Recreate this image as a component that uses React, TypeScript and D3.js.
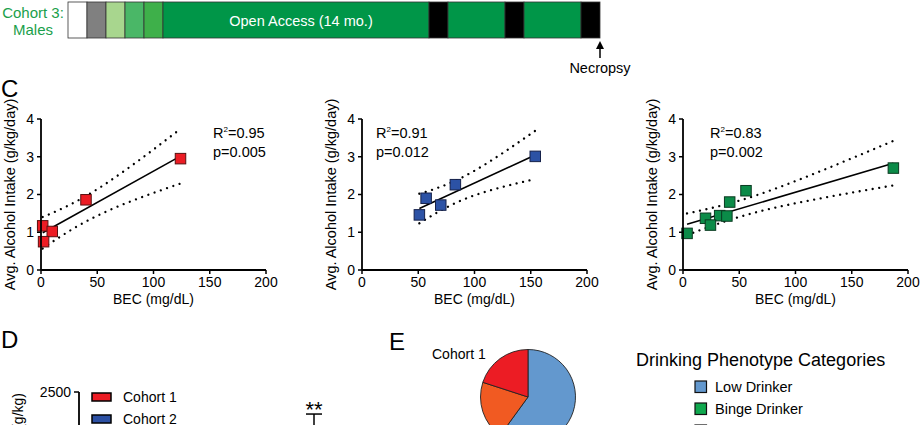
import React from "react";
import * as d3 from "d3";

const FONT = "'Liberation Sans', Arial, Helvetica, sans-serif";

// ---- Timeline (Cohort 3: Males), durations in months ----
const timelinePhases = ["Baseline", "Induction 1", "Induction 2", "Induction 3", "Induction 4", "Open Access", "Abstinence 1", "Reintroduction 1", "Abstinence 2", "Reintroduction 2", "Abstinence 3"];
const timelineDurations = [1, 1, 1, 1, 1, 14, 1, 3, 1, 3, 1];
const timelineColors = ["#ffffff", "#808080", "#a8d68e", "#4ab767", "#3eb04a", "#009648", "#000000", "#009648", "#000000", "#009648", "#000000"];

// ---- Panel C: BEC vs intake ----
const cohort1BEC = [124, 40, 1.5, 10, 2.3];
const cohort1Intake = [2.95, 1.86, 1.17, 1.02, 0.75];
const cohort2BEC = [154, 83, 57, 70, 51];
const cohort2Intake = [3.01, 2.26, 1.9, 1.72, 1.46];
const cohort3BEC = [187, 56, 41.5, 32.6, 39, 20, 24.4, 3.6];
const cohort3Intake = [2.7, 2.1, 1.8, 1.44, 1.43, 1.37, 1.19, 0.97];
const statsR2 = ["0.95", "0.91", "0.83"];
const statsP = ["0.005", "0.012", "0.002"];
const becTicks = [0, 50, 100, 150, 200];
const intakeTicks = [0, 1, 2, 3, 4];
const T_CRIT: Record<number, number> = { 3: 3.182, 6: 2.447 };

// ---- Panel D ----
const dCohorts = ["Cohort 1", "Cohort 2"];
const dTicks = [2500, 2000];
const dErrorTop = 2210;

// ---- Panel E ----
const phenotypeNames = ["Low Drinker", "Binge Drinker", "Heavy Drinker", "Very Heavy Drinker"];
const phenotypeColors = ["#6398ce", "#10a84e", "#f15a22", "#ec1c24"];
const cohort1PhenoNames = ["Low Drinker", "Heavy Drinker", "Very Heavy Drinker"];
const cohort1PhenoCounts = [3, 1, 1];

function Scatter({ x0, x1, bec, intake, fill, stroke, r2, p, textX }: any) {
  const x = d3.scaleLinear().domain([0, 200]).range([x0, x1]);
  const y = d3.scaleLinear().domain([0, 4]).range([270, 119]);
  const n = bec.length;
  const mx = d3.mean(bec) as number;
  const my = d3.mean(intake) as number;
  const sxx = d3.sum(bec, (v: number) => (v - mx) ** 2);
  const sxy = d3.sum(bec.map((v: number, i: number) => (v - mx) * (intake[i] - my)));
  const slope = sxy / sxx;
  const icpt = my - slope * mx;
  const ssr = d3.sum(bec.map((v: number, i: number) => (intake[i] - (icpt + slope * v)) ** 2));
  const s = Math.sqrt(ssr / (n - 2));
  const t = T_CRIT[n - 2];
  const [minX, maxX] = d3.extent(bec) as [number, number];
  const xs = d3.range(0, 61).map((k) => minX + ((maxX - minX) * k) / 60);
  const line = d3.line<[number, number]>().x((d) => x(d[0])).y((d) => y(d[1]));
  const band = (sign: number) =>
    line(xs.map((v) => [v, icpt + slope * v + sign * t * s * Math.sqrt(1 / n + (v - mx) ** 2 / sxx)] as [number, number])) as string;
  const fit = line([[minX, icpt + slope * minX], [maxX, icpt + slope * maxX]]) as string;
  const sz = 10.5;
  return (
    <g fontFamily={FONT}>
      <path d={band(1)} fill="none" stroke="#000" strokeWidth={2.3} strokeDasharray="0.01 6.6" strokeLinecap="round" />
      <path d={band(-1)} fill="none" stroke="#000" strokeWidth={2.3} strokeDasharray="0.01 6.6" strokeLinecap="round" />
      <path d={fit} fill="none" stroke="#000" strokeWidth={1.6} />
      {bec.map((v: number, i: number) => (
        <rect key={i} x={x(v) - sz / 2} y={y(intake[i]) - sz / 2} width={sz} height={sz} fill={fill} stroke={stroke} strokeWidth={1} />
      ))}
      {/* axes */}
      <line x1={x0} x2={x0} y1={y(4)} y2={y(0)} stroke="#000" strokeWidth={1.8} />
      <line x1={x0} x2={x1} y1={y(0)} y2={y(0)} stroke="#000" strokeWidth={1.8} />
      {intakeTicks.map((tk) => (
        <g key={tk}>
          <line x1={x0 - 4} x2={x0} y1={y(tk)} y2={y(tk)} stroke="#000" strokeWidth={1.5} />
          <text x={x0 - 7} y={y(tk)} dy="0.35em" textAnchor="end" fontSize={14}>{tk}</text>
        </g>
      ))}
      {becTicks.map((tk) => (
        <g key={tk}>
          <line x1={x(tk)} x2={x(tk)} y1={y(0)} y2={y(0) + 4} stroke="#000" strokeWidth={1.5} />
          <text x={x(tk)} y={287} textAnchor="middle" fontSize={14}>{tk}</text>
        </g>
      ))}
      <text x={(x0 + x1) / 2} y={304} textAnchor="middle" fontSize={14}>BEC (mg/dL)</text>
      <text transform={`translate(${x0 - 31},${(y(4) + y(0)) / 2}) rotate(-90)`} textAnchor="middle" dy="0.35em" fontSize={14.5}>
        Avg. Alcohol Intake (g/kg/day)
      </text>
      <text x={textX} y={138} fontSize={14.5}>
        R<tspan fontSize={8} dy={-6}>2</tspan>
        <tspan dy={6}>={r2}</tspan>
      </text>
      <text x={textX} y={157} fontSize={14.5}>p={p}</text>
    </g>
  );
}

export default function App() {
  // timeline
  const total = d3.sum(timelineDurations);
  const tx = d3.scaleLinear().domain([0, total]).range([68, 600]);
  const starts = d3.cumsum([0, ...timelineDurations]);
  const openIdx = timelinePhases.indexOf("Open Access");

  // panel D
  const dy = d3.scaleLinear().domain([0, 2500]).range([582, 392]);
  const dColors = ["#ec1c24", "#2c50a3"];

  // panel E
  const pie = d3.pie<number>().sort(null).value((d) => d);
  const arcs = pie(cohort1PhenoCounts);
  const arc = d3.arc<d3.PieArcDatum<number>>().innerRadius(0).outerRadius(47.5);

  return (
    <svg width={920} height={425} style={{ position: "absolute", left: 0, top: 0, background: "#fff" }} fontFamily={FONT}>
      <rect x={0} y={0} width={920} height={425} fill="#fff" />
      {/* Timeline */}
      <text x={33} y={18} textAnchor="middle" fontSize={15} fill="#1aa04b">Cohort 3:</text>
      <text x={33} y={35} textAnchor="middle" fontSize={15} fill="#1aa04b">Males</text>
      {timelineDurations.map((d, i) => (
        <rect key={timelinePhases[i]} x={tx(starts[i])} y={2} width={tx(starts[i] + d) - tx(starts[i])} height={36}
          fill={timelineColors[i]} stroke="#333" strokeWidth={0.8} />
      ))}
      <text x={(tx(starts[openIdx]) + tx(starts[openIdx + 1])) / 2 + 5} y={21} dy="0.35em" textAnchor="middle" fontSize={14.5} fill="#fff">
        Open Access (14 mo.)
      </text>
      <line x1={tx(total)} x2={tx(total)} y1={58} y2={46} stroke="#000" strokeWidth={1.5} />
      <polygon points={`${tx(total)},41 ${tx(total) - 4},49 ${tx(total) + 4},49`} fill="#000" />
      <text x={tx(total)} y={73} textAnchor="middle" fontSize={14.5}>Necropsy</text>

      {/* Panel C */}
      <text x={1} y={97} fontSize={24}>C</text>
      <Scatter x0={41} x1={266} bec={cohort1BEC} intake={cohort1Intake} fill="#ec1c24" stroke="#5a1010" r2={statsR2[0]} p={statsP[0]} textX={213} />
      <Scatter x0={362} x1={587} bec={cohort2BEC} intake={cohort2Intake} fill="#2c52a5" stroke="#15214a" r2={statsR2[1]} p={statsP[1]} textX={376} />
      <Scatter x0={683} x1={908} bec={cohort3BEC} intake={cohort3Intake} fill="#0b8b48" stroke="#0a3a20" r2={statsR2[2]} p={statsP[2]} textX={710} />

      {/* Panel D */}
      <text x={1} y={348} fontSize={24}>D</text>
      <text transform={`translate(18,393) rotate(-90)`} textAnchor="end" dy="0.35em" fontSize={14}>Cumulative Intake (g/kg)</text>
      <line x1={79} x2={79} y1={dy(2500)} y2={440} stroke="#000" strokeWidth={1.8} />
      {dTicks.map((tk) => (
        <g key={tk}>
          <line x1={74} x2={79} y1={dy(tk)} y2={dy(tk)} stroke="#000" strokeWidth={1.5} />
          <text x={71} y={dy(tk)} dy="0.35em" textAnchor="end" fontSize={14}>{tk}</text>
        </g>
      ))}
      {dCohorts.map((c, i) => (
        <g key={c}>
          <rect x={92} y={393 + i * 22} width={19} height={8} fill={dColors[i]} stroke="#000" strokeWidth={1.5} />
          <text x={123} y={397 + i * 22} dy="0.35em" fontSize={14}>{c}</text>
        </g>
      ))}
      <text x={314} y={417} textAnchor="middle" fontSize={22}>**</text>
      <line x1={306} x2={322} y1={dy(dErrorTop)} y2={dy(dErrorTop)} stroke="#000" strokeWidth={1.5} />
      <line x1={314} x2={314} y1={dy(dErrorTop)} y2={440} stroke="#000" strokeWidth={1.5} />

      {/* Panel E */}
      <text x={389} y={350} fontSize={24}>E</text>
      <text x={432} y={354} dy="0.35em" fontSize={14}>Cohort 1</text>
      <g transform="translate(528,397)">
        {arcs.map((a, i) => (
          <path key={i} d={arc(a) as string} fill={phenotypeColors[phenotypeNames.indexOf(cohort1PhenoNames[i])]} stroke="#222" strokeWidth={0.9} />
        ))}
      </g>
      <text x={636} y={366} fontSize={18}>Drinking Phenotype Categories</text>
      {phenotypeNames.map((nm, i) => (
        <g key={nm}>
          <rect x={695} y={381 + i * 22} width={11.5} height={11.5} fill={phenotypeColors[i]} stroke="#111" strokeWidth={1.2} />
          <text x={715} y={387 + i * 22} dy="0.35em" fontSize={14.5}>{nm}</text>
        </g>
      ))}
    </svg>
  );
}
